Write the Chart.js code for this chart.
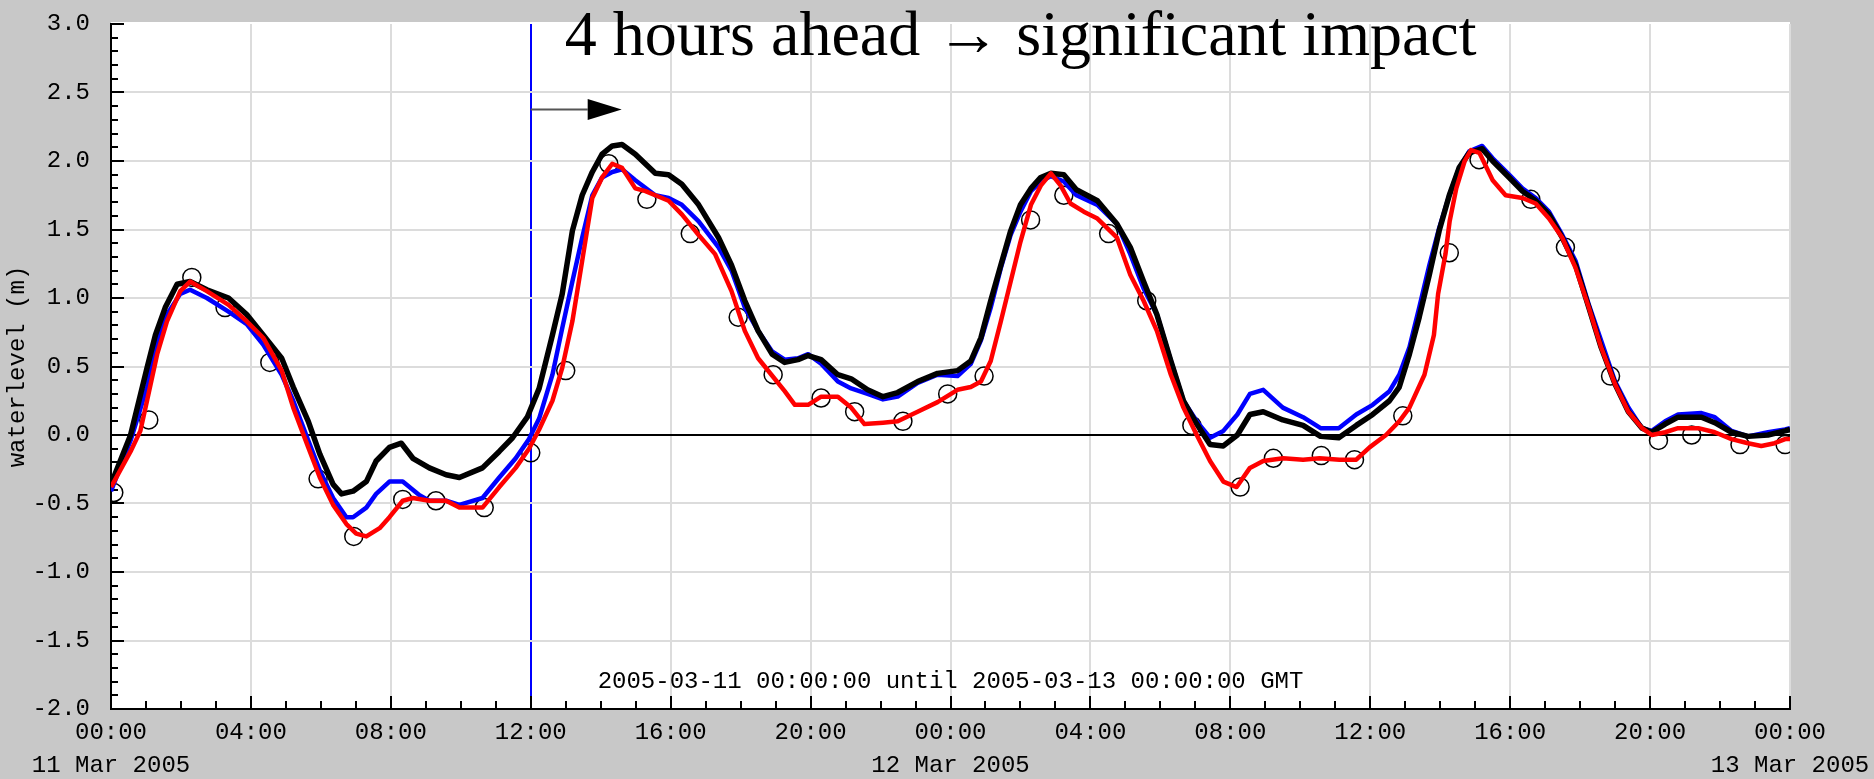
<!DOCTYPE html>
<html>
<head>
<meta charset="utf-8">
<script src="https://cdn.jsdelivr.net/npm/chart.js@4.4.1/dist/chart.umd.min.js"></script>
<style>
  html, body { margin: 0; padding: 0; background: #c8c8c8; }
  #wrap { width: 1874px; height: 779px; }
</style>
</head>
<body>
<div id="wrap"><canvas id="levelChart" width="1874" height="779"></canvas></div>
<script>
// Hours since 2005-03-11 00:00 GMT, water level in metres

// Black series
const blackHours = [0, 0.56, 1.03, 1.27, 1.55, 1.89, 2.26, 2.74, 3.36, 3.88,
  4.35, 4.88, 5.21, 5.64, 5.97, 6.35, 6.59, 6.92, 7.30, 7.58,
  7.96, 8.30, 8.63, 9.10, 9.58, 9.96, 10.62, 11.10, 11.48, 11.90,
  12.24, 12.62, 12.90, 13.19, 13.47, 13.76, 14.04, 14.33, 14.61, 14.99,
  15.56, 15.94, 16.32, 16.80, 17.37, 17.74, 18.12, 18.50, 18.90, 19.26,
  19.64, 19.93, 20.30, 20.78, 21.16, 21.63, 22.07, 22.49, 23.06, 23.63,
  24.20, 24.58, 24.87, 25.15, 25.44, 25.72, 26.00, 26.30, 26.58, 26.87,
  27.24, 27.60, 28.20, 28.76, 29.14, 29.52, 29.90, 30.30, 30.66, 31.04,
  31.42, 31.80, 32.20, 32.56, 32.94, 33.50, 34.08, 34.58, 35.10, 35.60,
  36.07, 36.55, 36.83, 37.12, 37.40, 37.69, 37.97, 38.26, 38.54, 38.83,
  39.20, 39.50, 39.97, 40.35, 40.73, 41.11, 41.49, 41.87, 42.25, 42.60,
  43.00, 43.38, 43.77, 44.05, 44.43, 44.80, 45.47, 45.85, 46.33, 46.80,
  47.37, 47.86, 48.0];
const blackLevels = [-0.36, 0.00, 0.49, 0.73, 0.93, 1.10, 1.12, 1.06, 1.00, 0.88,
  0.73, 0.56, 0.35, 0.10, -0.14, -0.36, -0.43, -0.41, -0.34, -0.19,
  -0.09, -0.06, -0.17, -0.24, -0.29, -0.31, -0.24, -0.12, -0.02, 0.13,
  0.34, 0.73, 1.03, 1.49, 1.75, 1.92, 2.05, 2.11, 2.12, 2.05,
  1.91, 1.90, 1.83, 1.68, 1.44, 1.24, 0.98, 0.76, 0.59, 0.53,
  0.55, 0.58, 0.55, 0.44, 0.41, 0.33, 0.28, 0.31, 0.39, 0.45,
  0.47, 0.54, 0.71, 0.98, 1.24, 1.49, 1.68, 1.80, 1.88, 1.91,
  1.90, 1.79, 1.71, 1.54, 1.37, 1.12, 0.88, 0.54, 0.25, 0.08,
  -0.07, -0.08, 0.00, 0.15, 0.17, 0.11, 0.07, -0.01, -0.02, 0.07,
  0.15, 0.25, 0.35, 0.59, 0.86, 1.17, 1.49, 1.75, 1.95, 2.06,
  2.09, 2.00, 1.88, 1.78, 1.71, 1.61, 1.44, 1.24, 0.93, 0.64,
  0.37, 0.17, 0.05, 0.02, 0.08, 0.13, 0.13, 0.09, 0.02, -0.01,
  0.00, 0.03, 0.04];

// Blue series
const blueHours = [0, 0.56, 1.03, 1.27, 1.60, 1.98, 2.26, 2.74, 3.36, 3.88,
  4.35, 4.88, 5.21, 5.64, 5.97, 6.35, 6.73, 6.92, 7.30, 7.58,
  7.96, 8.34, 8.82, 9.10, 9.58, 9.96, 10.62, 11.10, 11.57, 11.95,
  12.24, 12.62, 12.90, 13.19, 13.47, 13.76, 14.04, 14.33, 14.61, 14.99,
  15.56, 15.94, 16.32, 16.80, 17.37, 17.74, 18.12, 18.50, 18.90, 19.26,
  19.64, 19.93, 20.30, 20.78, 21.16, 21.63, 22.07, 22.49, 23.06, 23.63,
  24.20, 24.58, 24.87, 25.15, 25.44, 25.72, 26.00, 26.30, 26.58, 26.87,
  27.24, 27.60, 28.20, 28.76, 29.14, 29.52, 29.90, 30.30, 30.66, 31.04,
  31.42, 31.80, 32.20, 32.56, 32.94, 33.50, 34.08, 34.58, 35.10, 35.60,
  36.07, 36.55, 36.83, 37.12, 37.40, 37.69, 37.97, 38.26, 38.54, 38.83,
  39.20, 39.50, 39.97, 40.35, 40.73, 41.11, 41.49, 41.87, 42.25, 42.60,
  43.00, 43.38, 43.77, 44.05, 44.43, 44.80, 45.47, 45.85, 46.33, 46.80,
  47.37, 47.86, 48.0];
const blueLevels = [-0.41, -0.04, 0.35, 0.64, 0.88, 1.03, 1.06, 1.00, 0.90, 0.81,
  0.66, 0.44, 0.25, -0.04, -0.26, -0.46, -0.60, -0.60, -0.53, -0.43,
  -0.34, -0.34, -0.44, -0.48, -0.48, -0.51, -0.46, -0.31, -0.17, -0.03,
  0.12, 0.44, 0.78, 1.12, 1.44, 1.75, 1.88, 1.92, 1.94, 1.86,
  1.75, 1.73, 1.68, 1.56, 1.37, 1.20, 0.93, 0.76, 0.61, 0.55,
  0.56, 0.59, 0.52, 0.39, 0.34, 0.30, 0.26, 0.28, 0.38, 0.44,
  0.43, 0.52, 0.69, 0.93, 1.22, 1.46, 1.63, 1.78, 1.85, 1.89,
  1.85, 1.75, 1.68, 1.54, 1.32, 1.07, 0.88, 0.54, 0.25, 0.10,
  -0.02, 0.03, 0.15, 0.30, 0.33, 0.20, 0.13, 0.05, 0.05, 0.15,
  0.22, 0.32, 0.44, 0.64, 0.93, 1.24, 1.51, 1.75, 1.95, 2.07,
  2.11, 2.02, 1.90, 1.80, 1.73, 1.63, 1.46, 1.27, 0.95, 0.69,
  0.39, 0.20, 0.05, 0.03, 0.10, 0.15, 0.16, 0.13, 0.03, -0.01,
  0.02, 0.04, 0.05];

// Red series
const redHours = [0, 0.56, 0.84, 1.03, 1.32, 1.60, 1.98, 2.26, 2.74, 3.36,
  3.88, 4.35, 4.88, 5.21, 5.64, 5.97, 6.35, 6.73, 7.01, 7.30,
  7.68, 7.96, 8.34, 8.63, 9.10, 9.58, 9.96, 10.62, 11.10, 11.57,
  11.95, 12.24, 12.62, 12.90, 13.19, 13.47, 13.76, 14.04, 14.33, 14.61,
  14.99, 15.28, 15.56, 15.94, 16.32, 16.80, 17.27, 17.74, 18.12, 18.50,
  18.88, 19.26, 19.55, 19.93, 20.30, 20.78, 21.16, 21.54, 22.07, 22.49,
  23.06, 23.63, 24.20, 24.58, 24.87, 25.15, 25.44, 25.72, 26.00, 26.30,
  26.58, 26.87, 27.15, 27.43, 27.81, 28.20, 28.76, 29.14, 29.52, 29.90,
  30.30, 30.66, 31.04, 31.42, 31.80, 32.18, 32.56, 32.94, 33.51, 34.08,
  34.55, 35.12, 35.60, 35.98, 36.45, 36.83, 37.12, 37.55, 37.82, 37.94,
  38.15, 38.27, 38.46, 38.70, 38.88, 39.12, 39.50, 39.87, 40.35, 40.73,
  41.11, 41.49, 41.87, 42.25, 42.60, 43.00, 43.38, 43.77, 44.05, 44.43,
  44.80, 45.38, 45.85, 46.33, 46.80, 47.18, 47.56, 47.86, 48.0];
const redLevels = [-0.38, -0.12, 0.03, 0.25, 0.59, 0.83, 1.05, 1.12, 1.05, 0.95,
  0.83, 0.71, 0.47, 0.20, -0.09, -0.31, -0.51, -0.65, -0.72, -0.74,
  -0.68, -0.60, -0.48, -0.46, -0.48, -0.48, -0.53, -0.53, -0.38, -0.24,
  -0.10, 0.04, 0.25, 0.49, 0.83, 1.27, 1.73, 1.88, 1.98, 1.95,
  1.80, 1.78, 1.75, 1.71, 1.61, 1.46, 1.32, 1.05, 0.76, 0.56,
  0.44, 0.32, 0.22, 0.22, 0.28, 0.28, 0.20, 0.08, 0.09, 0.10,
  0.17, 0.24, 0.33, 0.35, 0.39, 0.54, 0.83, 1.12, 1.41, 1.68,
  1.82, 1.91, 1.82, 1.69, 1.63, 1.58, 1.44, 1.17, 0.98, 0.76,
  0.44, 0.20, 0.00, -0.19, -0.34, -0.38, -0.24, -0.19, -0.17, -0.18,
  -0.17, -0.18, -0.18, -0.09, 0.00, 0.10, 0.20, 0.44, 0.73, 1.03,
  1.32, 1.56, 1.80, 2.00, 2.08, 2.06, 1.86, 1.75, 1.73, 1.69,
  1.58, 1.44, 1.22, 0.93, 0.64, 0.37, 0.17, 0.05, 0.00, 0.02,
  0.05, 0.05, 0.02, -0.03, -0.06, -0.08, -0.06, -0.03, -0.03];

// Observations (open circles)
const obsHours = [0.08, 1.08, 2.31, 3.26, 4.54, 5.92, 6.94, 8.34, 9.29, 10.67,
  12.0, 13.0, 14.23, 15.32, 16.56, 17.93, 18.93, 20.3, 21.26, 22.64,
  23.92, 24.96, 26.29, 27.24, 28.52, 29.61, 30.9, 32.28, 33.23, 34.6,
  35.55, 36.93, 38.26, 39.11, 40.59, 41.58, 42.87, 44.24, 45.19, 46.57,
  47.86];
const obsLevels = [-0.42, 0.11, 1.15, 0.93, 0.53, -0.32, -0.74, -0.47, -0.48, -0.53,
  -0.13, 0.47, 1.98, 1.72, 1.47, 0.86, 0.44, 0.27, 0.17, 0.10,
  0.30, 0.43, 1.57, 1.75, 1.47, 0.98, 0.07, -0.38, -0.17, -0.15,
  -0.18, 0.14, 1.33, 2.01, 1.72, 1.37, 0.43, -0.04, 0.00, -0.07,
  -0.07];

const dayLabels = ['11 Mar 2005', '12 Mar 2005', '13 Mar 2005'];
const periodText = '2005-03-11 00:00:00 until 2005-03-13 00:00:00 GMT';
const heading = '4 hours ahead \u2192 significant impact';
const forecastStart = 12;   // vertical marker (hours)
const arrowEnd = 14.6;      // arrow tip (hours)
const arrowLevel = 2.38;    // arrow height (m)

const mono = 'Liberation Mono';

function toPoints(xs, ys) {
  return xs.map((x, i) => ({ x: x, y: ys[i] }));
}

// Background, inward tick marks, annotation texts and arrow
const decorations = {
  id: 'decorations',
  beforeDraw(chart) {
    const { ctx, chartArea: a } = chart;
    ctx.save();
    ctx.fillStyle = '#ffffff';
    ctx.fillRect(a.left, a.top - 2, a.right - a.left, a.bottom - a.top + 2);
    ctx.restore();
  },
  beforeDatasetsDraw(chart) {
    const { ctx, chartArea: a, scales: { x, y } } = chart;
    ctx.save();
    ctx.strokeStyle = '#000';
    ctx.lineWidth = 2;
    ctx.beginPath();
    for (let i = -20; i <= 30; i++) {
      const py = Math.round(y.getPixelForValue(i / 10));
      const len = i % 5 === 0 ? 13 : 7;
      ctx.moveTo(a.left, py);
      ctx.lineTo(a.left + len, py);
    }
    for (let h = 0; h <= 48; h++) {
      const px = Math.round(x.getPixelForValue(h));
      const len = h % 4 === 0 ? 13 : 8;
      ctx.moveTo(px, a.bottom);
      ctx.lineTo(px, a.bottom - len);
    }
    ctx.stroke();

    ctx.font = '24px "' + mono + '"';
    ctx.fillStyle = '#000';
    ctx.textAlign = 'center';
    ctx.textBaseline = 'alphabetic';
    ctx.fillText(periodText, (a.left + a.right) / 2, a.bottom - 21);
    ctx.restore();
  },
  afterDatasetsDraw(chart) {
    const { ctx, scales: { x, y } } = chart;
    const x0 = x.getPixelForValue(forecastStart);
    const x1 = x.getPixelForValue(arrowEnd);
    const ay = Math.round(y.getPixelForValue(arrowLevel)) + 0.5;
    ctx.save();
    ctx.strokeStyle = '#555';
    ctx.lineWidth = 2;
    ctx.beginPath();
    ctx.moveTo(x0, ay);
    ctx.lineTo(x1 - 34, ay);
    ctx.stroke();
    ctx.fillStyle = '#000';
    ctx.beginPath();
    ctx.moveTo(x1, ay);
    ctx.lineTo(x1 - 34, ay - 10.5);
    ctx.lineTo(x1 - 34, ay + 10.5);
    ctx.closePath();
    ctx.fill();

    ctx.font = '64px "Liberation Serif"';
    ctx.textAlign = 'left';
    ctx.textBaseline = 'alphabetic';
    ctx.fillText(heading, x0 + 34, 55);
    ctx.restore();
  }
};

const ctx = document.getElementById('levelChart').getContext('2d');

const levelChart = new Chart(ctx, {
  type: 'scatter',
  data: {
    datasets: [
      {
        label: 'observed',
        data: toPoints(obsHours, obsLevels),
        showLine: false,
        pointStyle: 'circle',
        pointRadius: 9,
        pointBorderWidth: 1.5,
        pointBorderColor: '#000',
        pointBackgroundColor: 'rgba(0,0,0,0)',
        order: 4
      },
      {
        label: 'blue',
        data: toPoints(blueHours, blueLevels),
        showLine: true,
        borderColor: '#0000ff',
        borderWidth: 4.5,
        pointRadius: 0,
        borderJoinStyle: 'round',
        order: 3
      },
      {
        label: 'black',
        data: toPoints(blackHours, blackLevels),
        showLine: true,
        borderColor: '#000000',
        borderWidth: 5.5,
        pointRadius: 0,
        borderJoinStyle: 'round',
        order: 2
      },
      {
        label: 'red',
        data: toPoints(redHours, redLevels),
        showLine: true,
        borderColor: '#ff0000',
        borderWidth: 4.5,
        pointRadius: 0,
        borderJoinStyle: 'round',
        order: 1
      }
    ]
  },
  options: {
    responsive: false,
    animation: false,
    events: [],
    layout: { padding: { left: 0, top: 24, right: 84, bottom: 0 } },
    plugins: {
      legend: { display: false },
      tooltip: { enabled: false },
      title: { display: false }
    },
    scales: {
      x: {
        type: 'linear',
        min: 0,
        max: 48,
        afterFit(scale) {
          scale.height = 70;
          scale.paddingLeft = 0;
          scale.paddingRight = 0;
        },
        grid: {
          color: (c) => c.tick.value === forecastStart ? '#0000ff' : '#dcdcdc',
          lineWidth: 2,
          drawTicks: false
        },
        border: { color: '#000', width: 2 },
        ticks: {
          stepSize: 4,
          autoSkip: false,
          maxRotation: 0,
          padding: 7,
          color: '#000',
          font: { family: mono, size: 24, lineHeight: 1.375 },
          callback(v) {
            const hh = String(v % 24).padStart(2, '0') + ':00';
            return v % 24 === 0 ? [hh, dayLabels[v / 24]] : hh;
          }
        }
      },
      y: {
        min: -2,
        max: 3,
        afterFit(scale) {
          scale.width = 111;
          scale.paddingTop = 0;
          scale.paddingBottom = 0;
        },
        grid: {
          color: (c) => c.tick.value === 0 ? '#000' : (c.tick.value === 3 ? 'rgba(0,0,0,0)' : '#dcdcdc'),
          lineWidth: 2,
          drawTicks: false
        },
        border: { color: '#000', width: 2 },
        title: {
          display: true,
          text: 'waterlevel (m)',
          color: '#000',
          font: { family: mono, size: 24 },
          padding: { top: 3, bottom: 0 }
        },
        ticks: {
          stepSize: 0.5,
          padding: 21,
          color: '#000',
          font: { family: mono, size: 24 },
          callback(v) { return v.toFixed(1); }
        }
      }
    }
  },
  plugins: [decorations]
});
</script>
</body>
</html>
